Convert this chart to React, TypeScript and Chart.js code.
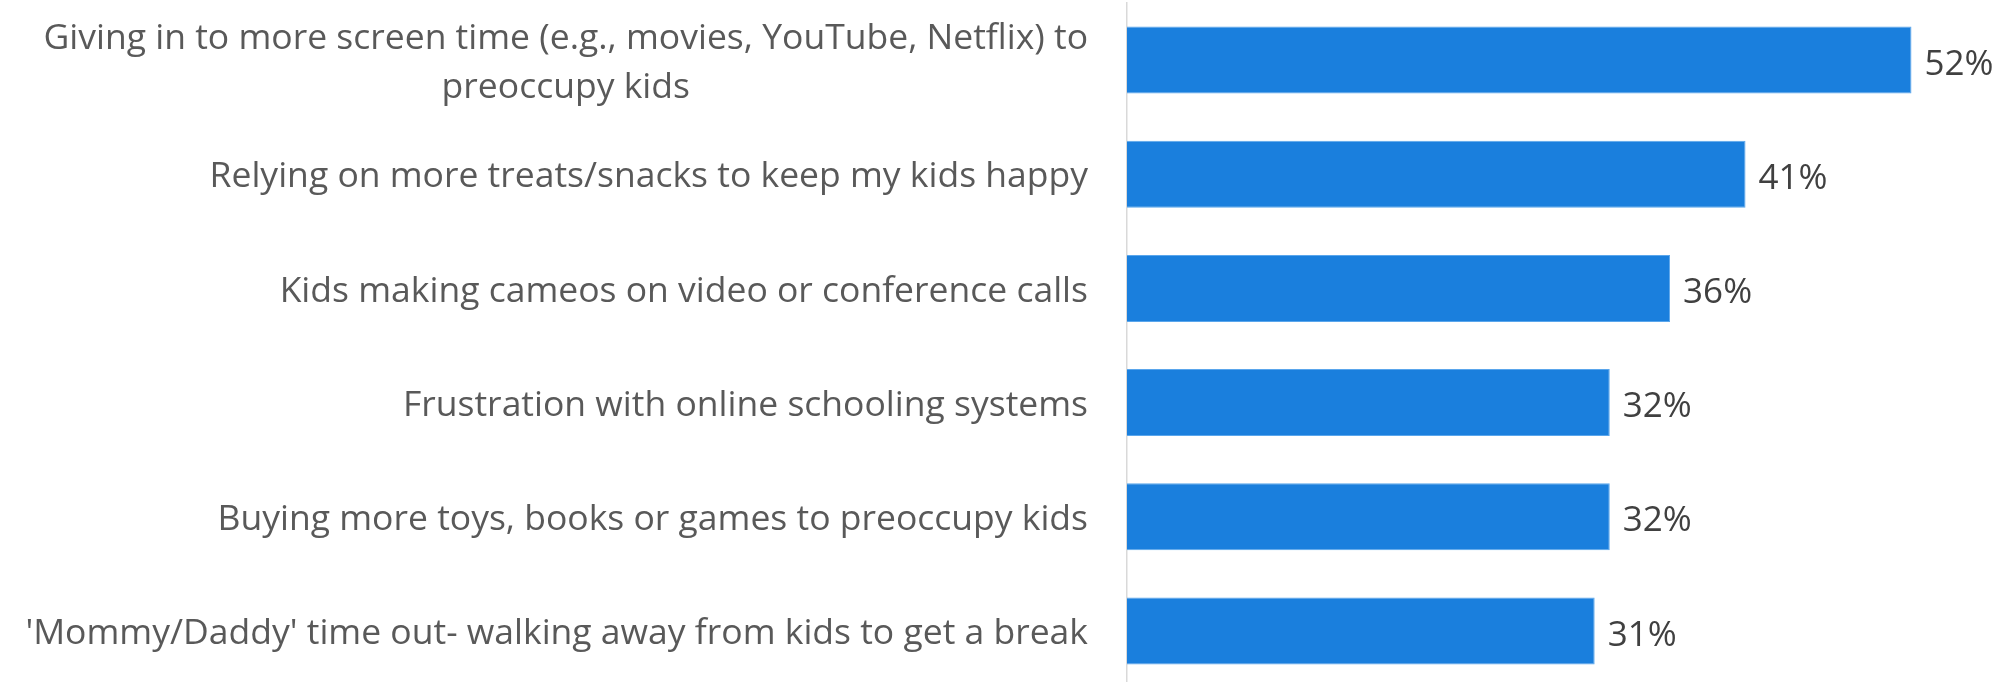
import React, { useEffect, useRef } from "react";
import { Chart, registerables } from "chart.js";
Chart.register(...registerables);

const categories: string[][] = [
  ["Giving in to more screen time (e.g., movies, YouTube, Netflix) to", "preoccupy kids"],
  ["Relying on more treats/snacks to keep my kids happy"],
  ["Kids making cameos on video or conference calls"],
  ["Frustration with online schooling systems"],
  ["Buying more toys, books or games to preoccupy kids"],
  ["'Mommy/Daddy' time out- walking away from kids to get a break"],
];
const values = [52, 41, 36, 32, 32, 31];
const valueLabels = ["52%", "41%", "36%", "32%", "32%", "31%"];

const FONT = "'Open Sans', 'Noto Sans', sans-serif";
const LABEL_SIZE = 35.5;
const VALUE_SIZE = 35;

const labelPlugin = {
  id: "customLabels",
  afterDatasetsDraw(chart: any) {
    const ctx = chart.ctx as CanvasRenderingContext2D;
    const yScale = chart.scales.y;
    const area = chart.chartArea;
    ctx.save();
    ctx.font = `${LABEL_SIZE}px ${FONT}`;
    ctx.fillStyle = "#595959";
    ctx.textBaseline = "alphabetic";
    const right = area.left - 39;
    const lineH = 49;
    categories.forEach((lines, i) => {
      const yc = yScale.getPixelForTick(i);
      const widths = lines.map((l) => ctx.measureText(l).width);
      const maxW = Math.max(...widths);
      const n = lines.length;
      lines.forEach((l, k) => {
        const base = yc + LABEL_SIZE * 0.37 + (k - (n - 1) / 2) * lineH;
        ctx.textAlign = "center";
        ctx.fillText(l, right - maxW / 2, base);
      });
    });
    ctx.font = `${VALUE_SIZE}px ${FONT}`;
    ctx.fillStyle = "#404040";
    ctx.textAlign = "left";
    const meta = chart.getDatasetMeta(0);
    meta.data.forEach((bar: any, i: number) => {
      ctx.fillText(valueLabels[i], bar.x + 13, bar.y + VALUE_SIZE * 0.42);
    });
    ctx.restore();
  },
};

export default function App() {
  const ref = useRef<HTMLCanvasElement | null>(null);
  useEffect(() => {
    if (!ref.current) return;
    const chart = new Chart(ref.current, {
      type: "bar",
      data: {
        labels: categories.map((c) => c.join(" ")),
        datasets: [
          {
            data: values,
            backgroundColor: "#1a7fdd",
            borderColor: "#5aa6ec",
            borderWidth: 1,
            borderSkipped: "left",
            barPercentage: 0.587,
            categoryPercentage: 1,
          },
        ],
      },
      options: {
        indexAxis: "y",
        animation: false,
        responsive: false,
        devicePixelRatio: 1,
        layout: { padding: { left: 1119, right: 13, top: 3, bottom: 2 } },
        plugins: { legend: { display: false }, tooltip: { enabled: false } },
        scales: {
          x: { display: false, min: 0, max: 58 },
          y: {
            type: "category",
            grid: { display: false },
            ticks: { display: false },
            border: { display: true, color: "#d9d9d9", width: 1.5 },
          },
        },
      },
      plugins: [labelPlugin],
    });
    return () => chart.destroy();
  }, []);
  return (
    <div style={{ position: "fixed", left: 0, top: 0, width: 2015, height: 682, overflow: "hidden", background: "#fff" }}>
      <canvas ref={ref} width={2015} height={690} style={{ width: 2015, height: 690, display: "block" }} />
    </div>
  );
}
